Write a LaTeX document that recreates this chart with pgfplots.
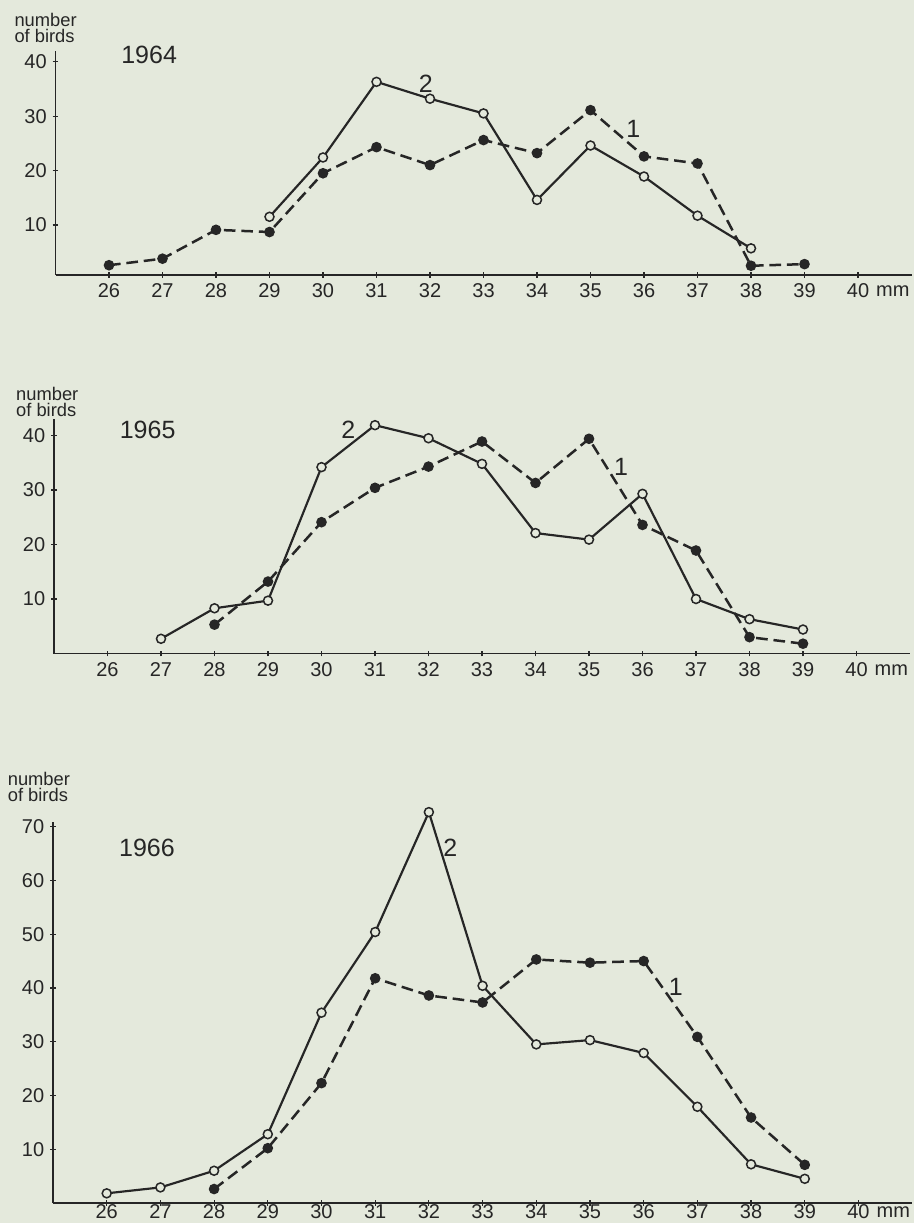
\documentclass[border=0pt]{standalone}
\usepackage{fontspec}
\setmainfont{Liberation Sans}
\usepackage{pgfplots}
\pgfplotsset{compat=1.18}
\definecolor{paper}{RGB}{228,233,220}
\definecolor{ink}{RGB}{38,38,38}

\pgfplotsset{
  birds/.style={
    scale only axis, anchor=south west, clip=false,
    axis lines=left, axis line style={ink, line width=1.1pt, -},
    xmin=25, xmax=41, xtick={26,...,40},
    tick align=center, major tick length=3.5pt,
    tick style={ink, line width=0.7pt},
    tick label style={ink, font=\fontsize{12}{14}\selectfont},
    /pgf/number format/assume math mode=true,
  },
  s1/.style={ink, line width=1.5pt, dash pattern=on 7pt off 3.5pt,
    mark=*, mark size=2.4pt, mark options={solid, fill=ink}},
  s2/.style={ink, line width=1.3pt,
    mark=*, mark size=2.7pt, mark options={solid, fill=paper, line width=0.9pt}},
}
\newcommand\lbl[1]{{\fontsize{15}{17}\selectfont #1}}

\begin{document}
\begin{tikzpicture}
\fill[paper] (0pt,0pt) rectangle (548.4pt,-733.8pt);

% 1964
\begin{axis}[birds, at={(33.3pt,-165.0pt)}, width=513.6pt, height=134.5pt,
  ymin=0.8, ymax=42, ytick={10,20,30,40}]
  \addplot[s1] coordinates {(26,2.6) (27,3.8) (28,9.1) (29,8.7) (30,19.5) (31,24.3)
    (32,21.0) (33,25.6) (34,23.2) (35,31.1) (36,22.6) (37,21.3) (38,2.5) (39,2.8)};
  \addplot[s2] coordinates {(29,11.5) (30,22.4) (31,36.3) (32,33.2) (33,30.5) (34,14.6)
    (35,24.6) (36,18.9) (37,11.7) (38,5.7)};
  \node[ink] at (axis cs:31.92,35.9) {\lbl{2}};
  \node[ink] at (axis cs:35.8,27.6) {\lbl{1}};
  \node[ink] at (axis cs:26.75,41.2) {\lbl{1964}};
  \node[ink, anchor=north, font=\fontsize{12}{14}\selectfont, yshift=-3pt] at (axis cs:40.65,0.8) {mm};
\end{axis}

% 1965
\begin{axis}[birds, at={(32.4pt,-392.1pt)}, width=513.6pt, height=140.6pt,
  ymin=0, ymax=43, ytick={10,20,30,40}]
  \addplot[s1] coordinates {(28,5.3) (29,13.2) (30,24.1) (31,30.4) (32,34.3) (33,38.9)
    (34,31.3) (35,39.4) (36,23.6) (37,18.9) (38,3.0) (39,1.8)};
  \addplot[s2] coordinates {(27,2.7) (28,8.3) (29,9.7) (30,34.2) (31,41.9) (32,39.5)
    (33,34.8) (34,22.1) (35,20.9) (36,29.3) (37,10.0) (38,6.3) (39,4.4)};
  \node[ink] at (axis cs:30.5,41.1) {\lbl{2}};
  \node[ink] at (axis cs:35.6,34.3) {\lbl{1}};
  \node[ink] at (axis cs:26.75,41.0) {\lbl{1965}};
  \node[ink, anchor=north, font=\fontsize{12}{14}\selectfont, yshift=-3pt] at (axis cs:40.65,0) {mm};
\end{axis}

% 1966
\begin{axis}[birds, at={(31.8pt,-721.8pt)}, width=515.5pt, height=228.4pt,
  ymin=0, ymax=70.8, ytick={10,20,...,70},
  xticklabel style={yshift=4.5pt}]
  \addplot[s1] coordinates {(28,2.6) (29,10.2) (30,22.3) (31,41.8) (32,38.6) (33,37.3)
    (34,45.3) (35,44.7) (36,45.0) (37,30.9) (38,15.9) (39,7.1)};
  \addplot[s2] coordinates {(26,1.8) (27,2.9) (28,6.0) (29,12.8) (30,35.4) (31,50.4)
    (32,72.7) (33,40.4) (34,29.5) (35,30.3) (36,27.9) (37,17.9) (38,7.2) (39,4.5)};
  \node[ink] at (axis cs:32.4,66) {\lbl{2}};
  \node[ink] at (axis cs:36.6,40.2) {\lbl{1}};
  \node[ink] at (axis cs:26.75,66) {\lbl{1966}};
  \node[ink, anchor=north, font=\fontsize{12}{14}\selectfont, yshift=1.5pt] at (axis cs:40.65,0) {mm};
\end{axis}

\node[ink, anchor=north west, align=left, inner sep=0pt,
  font=\fontsize{11}{9.5}\selectfont] at (8.5pt,-8pt) {number\\of birds};
\node[ink, anchor=north west, align=left, inner sep=0pt,
  font=\fontsize{11}{9.5}\selectfont] at (9.5pt,-232pt) {number\\of birds};
\node[ink, anchor=north west, align=left, inner sep=0pt,
  font=\fontsize{11}{9.5}\selectfont] at (4.5pt,-463pt) {number\\of birds};

\pgfresetboundingbox
\path (0pt,0pt) rectangle (548.4pt,-733.8pt);
\end{tikzpicture}
\end{document}
